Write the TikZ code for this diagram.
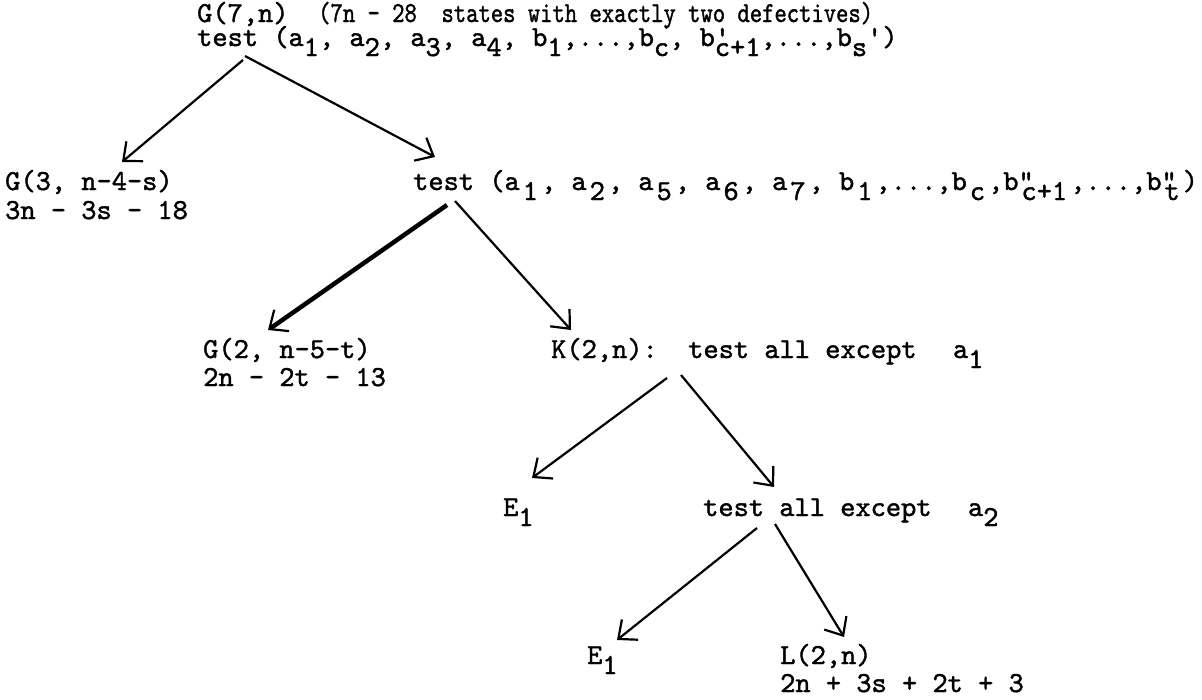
\documentclass[tikz,border=0pt]{standalone}
\usepackage{fontspec}
\usetikzlibrary{arrows.meta}
\newfontfamily\tw{lmmono10-regular.otf}[FakeBold=1.4]
\newcommand\dn[1]{\raisebox{-10pt}{#1}}
\newcommand\dnw[1]{\kern3pt\raisebox{-10pt}{#1}\kern3pt}
\newcommand\ov[1]{\rlap{#1}}
\begin{document}
\begin{tikzpicture}[x=1pt,y=-1pt,
  txt/.style={anchor=base west,inner sep=0pt,font=\tw\fontsize{29}{29}\selectfont},
  arr/.style={line width=2.2pt,-{Straight Barb[length=15pt,width=26pt,line width=2.2pt]}},
  tharr/.style={arr,line width=4.5pt}]
\useasboundingbox (0,0) rectangle (1202,699);
% texts
\node[txt] (r1) at (197,22) {G(7,n)};
\node[txt] (r1c) at (318,22) {\scalebox{0.81}[1]{(7n - 28~~states with exactly two defectives)}};
\node[txt] (r2) at (197,46) {test (a\dn{1}, a\dn{2}, a\dn{3}, a\dn{4}, b\dn{1},...,b\dn{c}, b\ov{'}\dn{c+1},...,b\dn{s}')};
\node[txt] (g3a) at (5,190) {G(3, n-4-s)};
\node[txt] (g3b) at (5,219) {3n - 3s - 18};
\node[txt] (t2) at (413,190) {test (a\dnw{1}, a\dnw{2}, a\dnw{5}, a\dnw{6}, a\dnw{7}, b\dnw{1},...,b\dnw{c},b\ov{"}\dnw{c+1},...,b\ov{"}\dnw{t})};
\node[txt] (g2a) at (203,358) {G(2, n-5-t)};
\node[txt] (g2b) at (203,386) {2n - 2t - 13};
\node[txt] (k) at (551,358) {K(2,n):~~test all except~~\kern6pt a\dn{1}};
\node[txt] (e1a) at (503,516) {E\dn{1}};
\node[txt] (t3) at (703,516) {test all except~~\kern6pt a\dn{2}};
\node[txt] (e1b) at (587,664) {E\dn{1}};
\node[txt] (la) at (780,664) {L(2,n)};
\node[txt] (lb) at (780,692) {2n + 3s + 2t + 3};
% connector ends
\coordinate (rL) at (243,60);  \coordinate (g3t) at (122,162);
\coordinate (rR) at (245,56);  \coordinate (t2t) at (435,157);
\coordinate (t2L) at (447,205); \coordinate (g2t) at (268,330);
\coordinate (t2R) at (455,201); \coordinate (kt) at (571,330);
\coordinate (kL) at (667,378); \coordinate (e1at) at (532,478);
\coordinate (kR) at (681,375); \coordinate (t3t) at (774,487);
\coordinate (t3L) at (757,528); \coordinate (e1bt) at (617,640);
\coordinate (t3R) at (775,524); \coordinate (lt) at (844,637);
\draw[arr] (rL) -- (g3t);
\draw[arr] (rR) -- (t2t);
\draw[tharr] (t2L) -- (g2t);
\draw[arr] (t2R) -- (kt);
\draw[arr] (kL) -- (e1at);
\draw[arr] (kR) -- (t3t);
\draw[arr] (t3L) -- (e1bt);
\draw[arr] (t3R) -- (lt);
\end{tikzpicture}
\end{document}
